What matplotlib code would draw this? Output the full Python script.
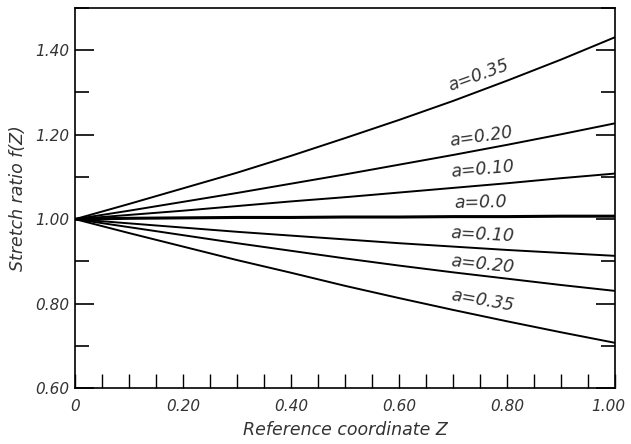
import matplotlib
matplotlib.use("Agg")
import matplotlib.pyplot as plt
import matplotlib.transforms as mtransforms
from matplotlib.ticker import MultipleLocator

# Values
z = [0.0, 0.1, 0.2, 0.3, 0.4, 0.5, 0.6, 0.7, 0.8, 0.9, 1.0]
f_up_035 = [1.00, 1.036, 1.073, 1.110, 1.150, 1.192, 1.235, 1.280, 1.328, 1.378, 1.431]
f_up_020 = [1.00, 1.020, 1.041, 1.062, 1.084, 1.106, 1.129, 1.152, 1.176, 1.201, 1.227]
f_up_010 = [1.00, 1.010, 1.020, 1.031, 1.042, 1.052, 1.063, 1.074, 1.085, 1.097, 1.108]
f_zero = [1.00, 1.002, 1.003, 1.004, 1.004, 1.005, 1.005, 1.006, 1.006, 1.007, 1.007]
f_dn_010 = [1.00, 0.990, 0.980, 0.970, 0.961, 0.952, 0.943, 0.935, 0.927, 0.920, 0.913]
f_dn_020 = [1.00, 0.981, 0.962, 0.943, 0.925, 0.907, 0.890, 0.874, 0.859, 0.844, 0.830]
f_dn_035 = [1.00, 0.967, 0.935, 0.903, 0.873, 0.842, 0.813, 0.785, 0.758, 0.732, 0.707]

curves = [f_up_035, f_up_020, f_up_010, f_zero, f_dn_010, f_dn_020, f_dn_035]
labels = ["a=0.35", "a=0.20", "a=0.10", "a=0.0", "a=0.10", "a=0.20", "a=0.35"]
label_pos = [(0.746, 1.340), (0.752, 1.196), (0.754, 1.117), (0.750, 1.040),
             (0.754, 0.964), (0.754, 0.893), (0.754, 0.806)]
label_rot = [20, 8, 5, 1, -3, -6, -10]

txt_color = "#333333"

fig = plt.figure(figsize=(6.31, 4.44), dpi=100)
ax = fig.add_axes([0.119, 0.126, 0.856, 0.856])

for vals in curves:
    lw = 2.2 if vals is f_zero else 1.4
    ax.plot(z, vals, color="black", linewidth=lw)

for lab, (x, y), r in zip(labels, label_pos, label_rot):
    ax.text(x, y, lab, rotation=r, ha="center", va="center",
            fontsize=12.5, style="italic", color=txt_color,
            rotation_mode="anchor")

ax.set_xlim(0, 1.0)
ax.set_ylim(0.60, 1.50)

ax.set_xticks([0, 0.2, 0.4, 0.6, 0.8, 1.0])
ax.set_xticklabels(["0", "0.20", "0.40", "0.60", "0.80", "1.00"])
ax.set_yticks([0.6, 0.8, 1.0, 1.2, 1.4])
ax.set_yticklabels(["0.60", "0.80", "1.00", "1.20", "1.40"])
ax.xaxis.set_minor_locator(MultipleLocator(0.05))
ax.yaxis.set_minor_locator(MultipleLocator(0.1))

ax.tick_params(axis="both", which="both", direction="in", color="black",
               labelcolor=txt_color, labelsize=11, right=True)
ax.tick_params(axis="y", which="major", length=14, width=1.2, pad=4)
ax.tick_params(axis="y", which="minor", length=10, width=1.2)
ax.tick_params(axis="x", which="major", length=10, width=1.0, pad=8)
ax.tick_params(axis="x", which="minor", length=10, width=1.0)
for lab in ax.get_xticklabels() + ax.get_yticklabels():
    lab.set_fontstyle("italic")

# pull the last x label in a bit so it stays inside the figure
last = ax.get_xticklabels()[-1]
last.set_transform(last.get_transform() +
                   mtransforms.ScaledTranslation(-5 / 72, 0, fig.dpi_scale_trans))

for s in ax.spines.values():
    s.set_linewidth(1.2)

ax.set_xlabel("Reference coordinate Z", fontsize=12.5, style="italic",
              color=txt_color, labelpad=5)
ax.set_ylabel("Stretch ratio f(Z)", fontsize=12.5, style="italic",
              color=txt_color, labelpad=6)

fig.savefig("out.png", dpi=100)
